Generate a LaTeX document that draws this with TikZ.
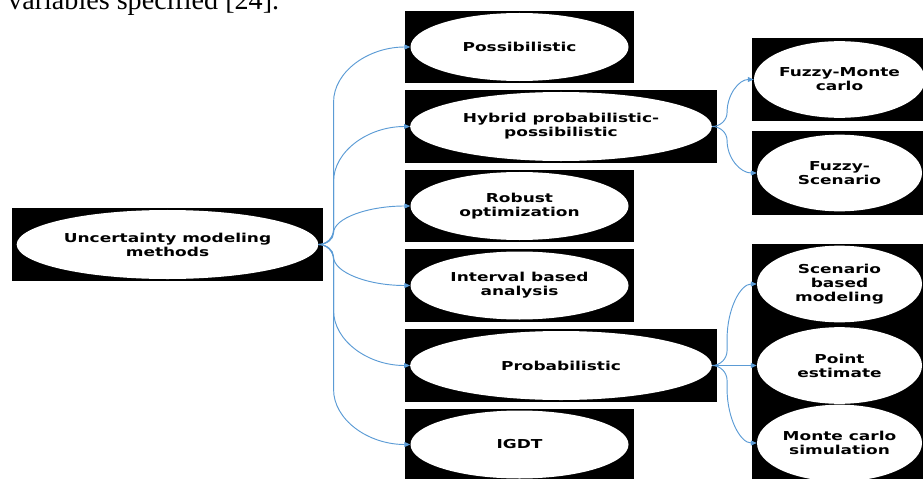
\documentclass[tikz,border=0pt]{standalone}
\usepackage{fontspec}
\setmainfont{Liberation Serif}
\newfontfamily\boxfont[FakeStretch=1.38]{DejaVu Sans}
\usetikzlibrary{shapes,arrows.meta,calc}

\definecolor{linkblue}{RGB}{91,155,213}

\tikzset{
  oval/.style={ellipse, fill=white, inner sep=0pt, align=center,
    font=\boxfont\bfseries\fontsize{10.5}{12}\selectfont},
  wideoval/.style={oval, minimum width=9.05cm, minimum height=2.07cm},
  smalloval/.style={oval, minimum width=6.54cm, minimum height=2.04cm},
  leafoval/.style={oval, minimum width=4.95cm, minimum height=2.3cm},
  % elbow connector: short turn, trunk, long turn
  fork/.style={draw=linkblue, line width=0.8pt,
    -{Triangle[length=5pt,width=4.2pt]},
    to path={let \p1=(\tikztostart), \p2=(\tikztotarget),
      \n1={sign(\y2-\y1)},
      \n2={min(12.8,0.3*abs(\y2-\y1))},
      \n3={min(47,0.7*abs(\y2-\y1))} in
      .. controls (\x1+7pt,\y1) and (\x1+12.8pt,\y1+0.45*\n1*\n2) .. (\x1+12.8pt,\y1+\n1*\n2)
      -- (\x1+12.8pt,\y2-\n1*\n3)
      .. controls (\x1+12.8pt,\y2-0.45*\n1*\n3) and ({\x2-0.55*(\x2-\x1-12.8pt)},\y2) .. (\p2)}},
}

\begin{document}
\begin{tikzpicture}[x=0.03cm, y=-0.03cm]
    \useasboundingbox (0,0) rectangle (923,479);
    \clip (0,0) rectangle (923,479);

    % Line of the page above the figure
    \node[anchor=base west, inner sep=0pt, font=\fontsize{24}{28}\selectfont] (caption) at (8,10) {variables specified [24].};

    % Black frames
    \fill (12,208) rectangle (323,281);
    \fill (405,11) rectangle (634,83);
    \fill (405,90) rectangle (717,163);
    \fill (405,170) rectangle (634,242);
    \fill (405,249) rectangle (634,322);
    \fill (405,329) rectangle (717,402);
    \fill (405,409) rectangle (634,481);
    \fill (752,38) rectangle (923,121);
    \fill (752,131) rectangle (923,215);
    \fill (752,244) rectangle (923,481);

    % Root
    \node[wideoval] (root) at (167.5,244.5) {Uncertainty modeling\\methods};

    % Methods
    \node[smalloval] (poss) at (519.5,47) {Possibilistic};
    \node[wideoval] (hybrid) at (561,126.5) {Hybrid probabilistic-\\possibilistic};
    \node[smalloval] (robust) at (519.5,206) {Robust\\optimization};
    \node[smalloval] (interval) at (519.5,285.5) {Interval based\\analysis};
    \node[wideoval] (prob) at (561,365.5) {Probabilistic};
    \node[smalloval] (igdt) at (519.5,444.5) {IGDT};

    % Sub-methods
    \node[leafoval] (fuzzymc) at (839.5,79.5) {Fuzzy-Monte\\carlo};
    \node[leafoval] (fuzzysc) at (839.5,173) {Fuzzy-\\Scenario};
    \node[leafoval] (scenario) at (839.5,284) {Scenario\\based\\modeling};
    \node[leafoval] (point) at (839.5,365.5) {Point\\estimate};
    \node[leafoval] (montecarlo) at (839.5,443) {Monte carlo\\simulation};

    % Connectors
    \foreach \m in {poss,hybrid,robust,interval,prob,igdt}
        \draw[fork] (root.east) to (\m.west);
    \foreach \m in {fuzzymc,fuzzysc}
        \draw[fork] (hybrid.east) to (\m.west);
    \foreach \m in {scenario,point,montecarlo}
        \draw[fork] (prob.east) to (\m.west);

\end{tikzpicture}
\end{document}
